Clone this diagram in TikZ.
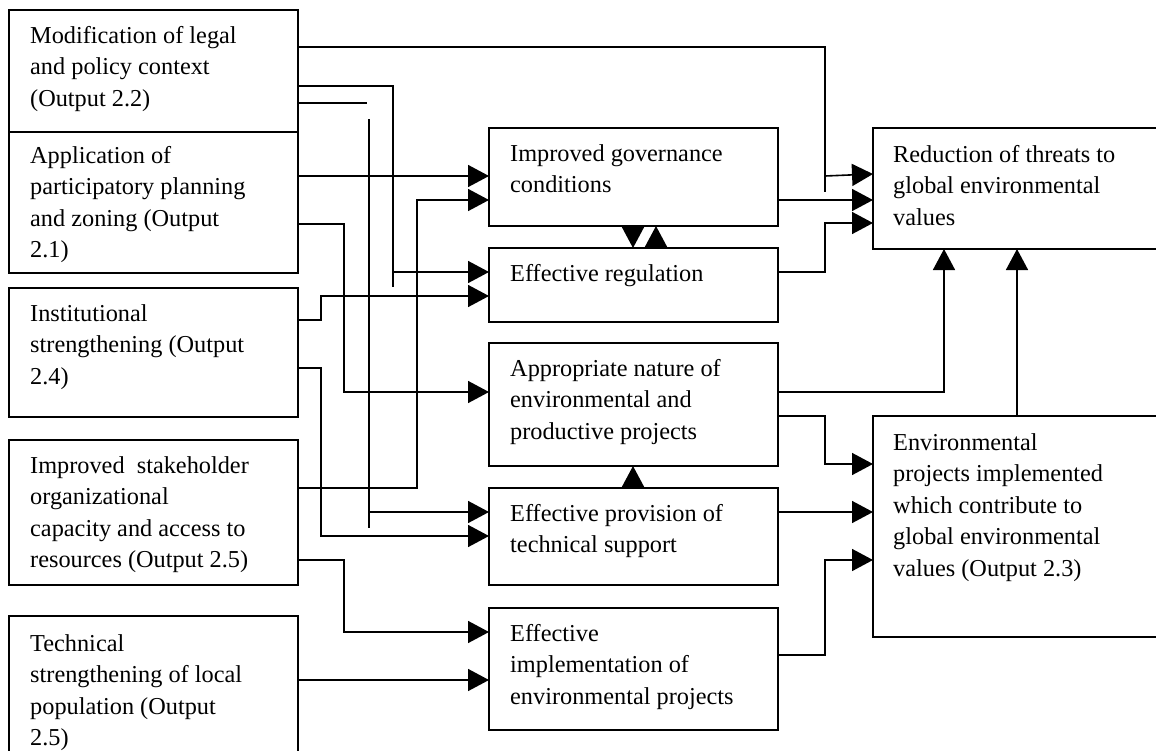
\documentclass[tikz,border=0pt]{standalone}
\usepackage{fontspec}
\setmainfont{Liberation Serif}
\usetikzlibrary{arrows.meta,calc}
\newcommand{\fstrut}{\rule{0pt}{22pt}}
\begin{document}
\begin{tikzpicture}[x=1pt,y=-1pt,
  box/.style={draw, line width=1.6pt, outer sep=0pt, inner sep=0pt, anchor=north west},
  txt/.style={anchor=north west, inner sep=0pt, align=left, font=\fontsize{24.3}{31.5}\selectfont},
  ln/.style={line width=1.6pt},
  arr/.style={line width=1.6pt, -{Triangle[length=21pt,width=22pt]}}]
\useasboundingbox (0,0) rectangle (1156,750);
\clip (0,0) rectangle (1156,750);
% left boxes
\node[box, minimum width=289pt, minimum height=122pt] (L1) at (9,10) {};
\node[box, minimum width=289pt, minimum height=141pt] (L2) at (9,132) {};
\node[box, minimum width=289pt, minimum height=129pt] (L3) at (9,288) {};
\node[box, minimum width=289pt, minimum height=145pt] (L4) at (9,440) {};
\node[box, minimum width=289pt, minimum height=154pt] (L5) at (9,616) {};
% middle boxes
\node[box, minimum width=289pt, minimum height=98pt] (M1) at (489,128) {};
\node[box, minimum width=289pt, minimum height=74pt] (M2) at (489,248) {};
\node[box, minimum width=289pt, minimum height=123pt] (M3) at (489,343) {};
\node[box, minimum width=289pt, minimum height=97pt] (M4) at (489,488) {};
\node[box, minimum width=289pt, minimum height=122pt] (M5) at (489,608) {};
% right boxes
\node[box, minimum width=292pt, minimum height=121pt] (R1) at (873,128) {};
\node[box, minimum width=292pt, minimum height=221pt] (R2) at (873,416) {};
% texts
\node[txt] (L1t) at ($(L1.north west)+(21,11)$) {\fstrut Modification of legal\\and policy context\\(Output 2.2)};
\node[txt] (L2t) at ($(L2.north west)+(21,9)$) {\fstrut Application of\\participatory planning\\and zoning (Output\\2.1)};
\node[txt] (L3t) at ($(L3.north west)+(21,11)$) {\fstrut Institutional\\strengthening (Output\\2.4)};
\node[txt] (L4t) at ($(L4.north west)+(21,11)$) {\fstrut Improved~ stakeholder\\organizational\\capacity and access to\\resources (Output 2.5)};
\node[txt] (L5t) at ($(L5.north west)+(21,13)$) {\fstrut Technical\\strengthening of local\\population (Output\\2.5)};
\node[txt] (M1t) at ($(M1.north west)+(21,11)$) {\fstrut Improved governance\\conditions};
\node[txt] (M2t) at ($(M2.north west)+(21,11)$) {\fstrut Effective regulation};
\node[txt] (M3t) at ($(M3.north west)+(21,11)$) {\fstrut Appropriate nature of\\environmental and\\productive projects};
\node[txt] (M4t) at ($(M4.north west)+(21,11)$) {\fstrut Effective provision of\\technical support};
\node[txt] (M5t) at ($(M5.north west)+(21,11)$) {\fstrut Effective\\implementation of\\environmental projects};
\node[txt] (R1t) at ($(R1.north west)+(20,12)$) {\fstrut Reduction of threats to\\global environmental\\values};
\node[txt] (R2t) at ($(R2.north west)+(20,12)$) {\fstrut Environmental\\projects implemented\\which contribute to\\global environmental\\values (Output 2.3)};
% connectors from left boxes
\draw[arr] (L1.east |- 0,47) -- (825,47) -- (825,176) -- (R1.west |- 0,174);
\draw[ln] (825,176) -- (825,192);
\draw[arr] (L1.east |- 0,86) -- (393,86) -- (393,272) -- (M2.west |- 0,272);
\draw[ln] (393,272) -- (393,287);
\draw[arr] (L1.east |- 0,103) -- (367,103) (369,119) -- (369,512) -- (M4.west |- 0,512);
\draw[ln] (369,512) -- (369,528);
\draw[arr] (L2.east |- 0,176) -- (M1.west |- 0,176);
\draw[arr] (L4.east |- 0,488) -- (417,488) -- (417,200) -- (M1.west |- 0,200);
\draw[arr] (L2.east |- 0,224) -- (344,224) -- (344,392) -- (M3.west |- 0,392);
\draw[arr] (L3.east |- 0,320) -- (321,320) -- (321,296) -- (M2.west |- 0,296);
\draw[arr] (L3.east |- 0,368) -- (321,368) -- (321,536) -- (M4.west |- 0,536);
\draw[arr] (L4.east |- 0,560) -- (344,560) -- (344,632) -- (M5.west |- 0,632);
\draw[arr] (L5.east |- 0,680) -- (M5.west |- 0,680);
% between middle boxes
\draw[arr] (M1.south -| 633,0) -- (M2.north -| 633,0);
\draw[arr] (M2.north -| 656,0) -- (M1.south -| 656,0);
\draw[arr] (M4.north -| 633,0) -- (M3.south -| 633,0);
% to right boxes
\draw[arr] (M1.east |- 0,200) -- (R1.west |- 0,200);
\draw[arr] (M2.east |- 0,272) -- (825,272) -- (825,223) -- (R1.west |- 0,223);
\draw[arr] (M3.east |- 0,392) -- (944,392) -- (R1.south -| 944,0);
\draw[arr] (R2.north -| 1017,0) -- (R1.south -| 1017,0);
\draw[arr] (M3.east |- 0,416) -- (825,416) -- (825,464) -- (R2.west |- 0,464);
\draw[arr] (M4.east |- 0,512) -- (R2.west |- 0,512);
\draw[arr] (M5.east |- 0,655) -- (825,655) -- (825,560) -- (R2.west |- 0,560);
\end{tikzpicture}
\end{document}
